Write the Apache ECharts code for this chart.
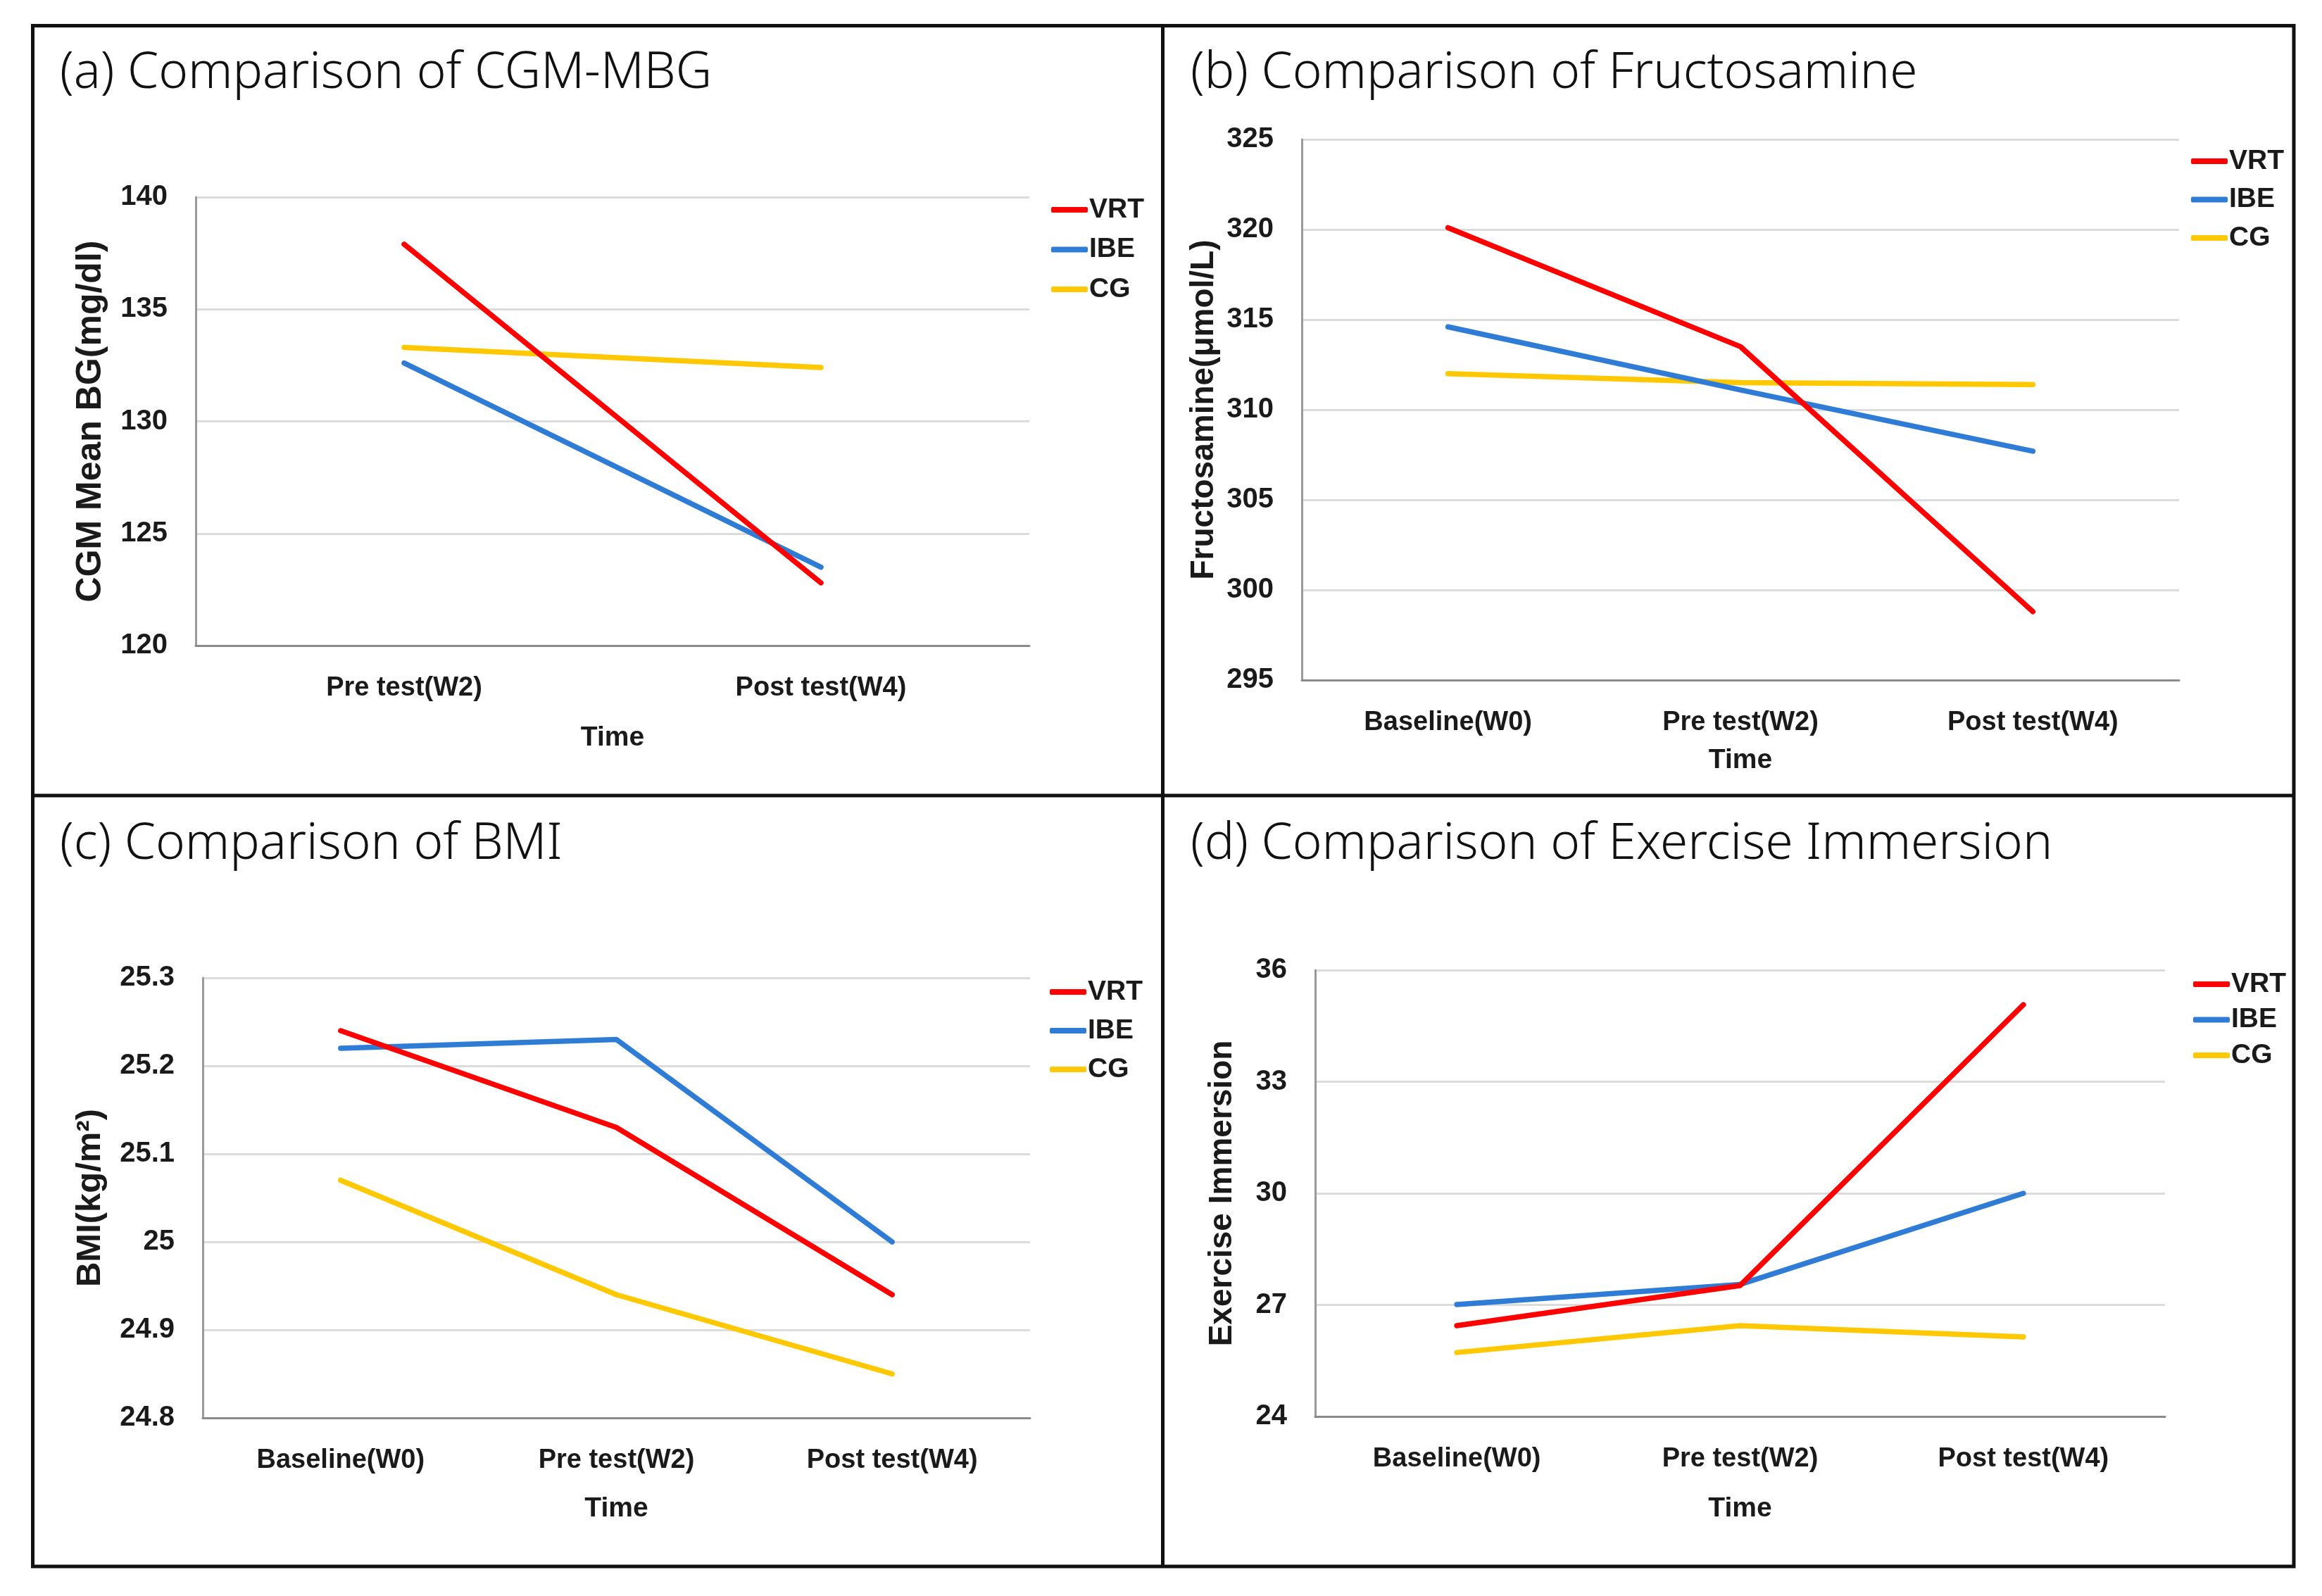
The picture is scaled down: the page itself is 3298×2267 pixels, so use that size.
<!DOCTYPE html>
<html>
<head>
<meta charset="utf-8">
<script src="https://cdn.jsdelivr.net/npm/echarts@6/dist/echarts.min.js"></script>
<style>
html,body{margin:0;padding:0;background:#fff;}
#c{width:3298px;height:2267px;}
</style>
</head>
<body>
<div id="c"></div>
<script>
// ---- data ----
const seriesNames = ['VRT', 'IBE', 'CG'];
const seriesColors = ['#FF0000', '#2E7CD6', '#FFC800'];
const cats2 = ['Pre test(W2)', 'Post test(W4)'];
const cats3 = ['Baseline(W0)', 'Pre test(W2)', 'Post test(W4)'];

const cgmVRT = [137.9, 122.8];
const cgmIBE = [132.6, 123.5];
const cgmCG  = [133.3, 132.4];

const frucVRT = [320.1, 313.5, 298.8];
const frucIBE = [314.6, 311.1, 307.7];
const frucCG  = [312.0, 311.5, 311.4];

const bmiVRT = [25.24, 25.13, 24.94];
const bmiIBE = [25.22, 25.23, 25.00];
const bmiCG  = [25.07, 24.94, 24.85];

const eiVRT = [26.44, 27.52, 35.07];
const eiIBE = [27.01, 27.55, 30.00];
const eiCG  = [25.72, 26.44, 26.14];

const titles = ['(a) Comparison of CGM-MBG', '(b) Comparison of Fructosamine', '(c) Comparison of BMI', '(d) Comparison of Exercise Immersion'];
const yNames = ['CGM Mean BG(mg/dl)', 'Fructosamine(μmol/L)', 'BMI(kg/m²)', 'Exercise Immersion'];
const xName = 'Time';
const yRanges = [[120, 140, 5], [295, 325, 5], [24.8, 25.3, 0.1], [24, 36, 3]];

// ---- layout ----
const panels = [
  {grid: {left: 278, top: 280, width: 1184, height: 637}, cats: cats2, data: [cgmVRT, cgmIBE, cgmCG],
   title: [85, 69], yGap: 124, ySize: 50, xGap: 112, legend: [1493, 275, 10.5]},
  {grid: {left: 1849, top: 198, width: 1246, height: 768}, cats: cats3, data: [frucVRT, frucIBE, frucCG],
   title: [1691, 69], yGap: 116, ySize: 46, xGap: 95, legend: [3112, 206, 8.5]},
  {grid: {left: 288, top: 1389, width: 1175, height: 625}, cats: cats3, data: [bmiVRT, bmiIBE, bmiCG],
   title: [85, 1164], yGap: 135, ySize: 49, xGap: 110, legend: [1491, 1386, 9]},
  {grid: {left: 1868, top: 1378, width: 1207, height: 634}, cats: cats3, data: [eiVRT, eiIBE, eiCG],
   title: [1691, 1164], yGap: 109, ySize: 46, xGap: 112, legend: [3115, 1375, 4.5]}
];

const txt = '#1a1a1a';
const option = {
  backgroundColor: '#ffffff',
  animation: false,
  title: [], grid: [], xAxis: [], yAxis: [], legend: [], series: [],
  graphic: [
    {type: 'rect', shape: {x: 46.5, y: 36.5, width: 3258 - 46.5, height: 2225 - 36.5},
     style: {fill: null, stroke: '#111', lineWidth: 5}, z: 100},
    {type: 'line', shape: {x1: 1651.5, y1: 36.5, x2: 1651.5, y2: 2225}, style: {stroke: '#111', lineWidth: 5}, z: 100},
    {type: 'line', shape: {x1: 46.5, y1: 1130, x2: 3258, y2: 1130}, style: {stroke: '#111', lineWidth: 5}, z: 100}
  ]
};

panels.forEach((p, i) => {
  option.title.push({
    text: titles[i], left: p.title[0], top: p.title[1], padding: 0,
    textStyle: {fontFamily: 'Noto Sans', fontWeight: 300, fontSize: 71, color: '#111'}
  });
  option.grid.push(Object.assign({containLabel: false}, p.grid));
  option.xAxis.push({
    type: 'category', gridIndex: i, data: p.cats, boundaryGap: true,
    name: xName, nameLocation: 'middle', nameGap: p.xGap,
    nameTextStyle: {fontFamily: 'Liberation Sans', fontWeight: 'bold', fontSize: 39, color: txt},
    axisLine: {show: true, lineStyle: {color: '#8a8a8a', width: 3}},
    axisTick: {show: false},
    axisLabel: {margin: 42, fontFamily: 'Liberation Sans', fontWeight: 'bold', fontSize: 38, color: txt},
    splitLine: {show: false}
  });
  const r = yRanges[i];
  option.yAxis.push({
    type: 'value', gridIndex: i, min: r[0], max: r[1], interval: r[2],
    name: yNames[i], nameLocation: 'middle', nameGap: p.yGap, nameRotate: 90,
    nameTextStyle: {fontFamily: 'Liberation Sans', fontWeight: 'bold', fontSize: p.ySize, color: txt},
    axisLine: {show: true, lineStyle: {color: '#9a9a9a', width: 3}},
    axisTick: {show: false},
    axisLabel: {margin: 40, fontFamily: 'Liberation Sans', fontWeight: 'bold', fontSize: 40, color: txt,
      formatter: v => String(+v.toFixed(2))},
    splitLine: {show: true, lineStyle: {color: '#dcdcdc', width: 3}}
  });
  option.legend.push({
    orient: 'vertical', left: p.legend[0], top: p.legend[1], itemGap: p.legend[2],
    padding: 0, icon: 'roundRect', itemWidth: 52, itemHeight: 8,
    data: seriesNames,
    textStyle: {fontFamily: 'Liberation Sans', fontWeight: 'bold', fontSize: 39, lineHeight: 46, color: txt, padding: [0, 0, 0, -3]}
  });
  seriesNames.forEach((n, k) => {
    option.series.push({
      type: 'line', name: n, xAxisIndex: i, yAxisIndex: i, data: p.data[k],
      symbol: 'none', color: seriesColors[k],
      lineStyle: {width: 7.5, color: seriesColors[k], cap: 'round'},
      z: 10 - k
    });
  });
});

const chart = echarts.init(document.getElementById('c'), null, {renderer: 'canvas', width: 3298, height: 2267});
chart.setOption(option);
</script>
</body>
</html>
